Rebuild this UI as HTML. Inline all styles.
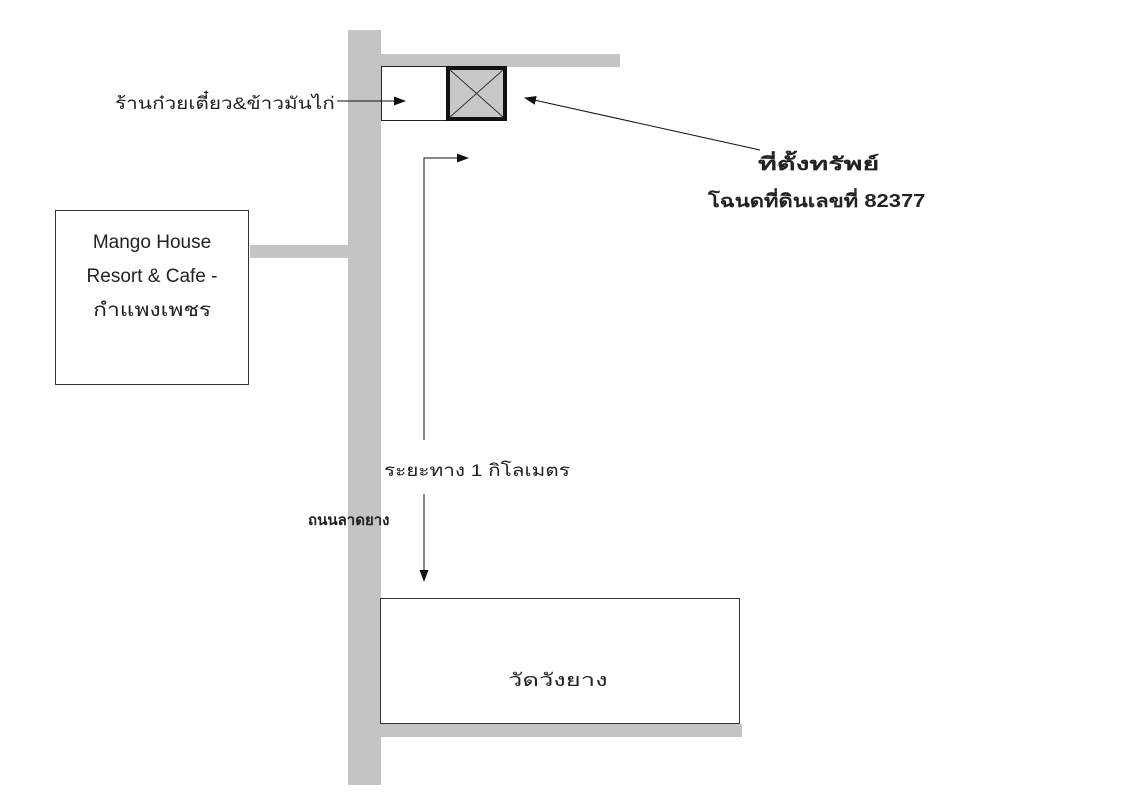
<!DOCTYPE html>
<html><head><meta charset="utf-8"><style>
body{margin:0;width:1138px;height:800px;background:#fff;position:relative;overflow:hidden;font-family:"Liberation Sans","DejaVu Sans",sans-serif;color:#222}
.t{position:absolute;white-space:nowrap;font-size:15px;transform-origin:0 50%}
</style></head><body>
<svg width="1138" height="800" style="position:absolute;left:0;top:0">
<defs><marker id="a" markerWidth="12" markerHeight="10" refX="11" refY="5" orient="auto" markerUnits="userSpaceOnUse"><path d="M0,0.5 L12,5 L0,9.5 z" fill="#111"/></marker></defs>
<g fill="#c4c4c4">
<rect x="348" y="30" width="33" height="755"/>
<rect x="381" y="54" width="239" height="13"/>
<rect x="250" y="245" width="98" height="13"/>
<rect x="381" y="724" width="361" height="13"/>
</g>
<rect x="381.5" y="66.5" width="65" height="54" fill="#fff" stroke="#222" stroke-width="1"/>
<rect x="448" y="68" width="57" height="51" fill="#c8c8c8" stroke="#111" stroke-width="4"/>
<path d="M450,70 L503,117 M503,70 L450,117" stroke="#333" stroke-width="1"/>
<rect x="55.5" y="210.5" width="193" height="174" fill="#fff" stroke="#333"/>
<rect x="380.5" y="598.5" width="359" height="125" fill="#fff" stroke="#333"/>
<line x1="337" y1="101" x2="405" y2="101" stroke="#111" marker-end="url(#a)"/>
<line x1="760" y1="150" x2="525" y2="98" stroke="#111" marker-end="url(#a)"/>
<polyline points="424,440 424,158 468,158" fill="none" stroke="#111" marker-end="url(#a)"/>
<line x1="424" y1="494" x2="424" y2="581" stroke="#111" marker-end="url(#a)"/>
</svg>
<div class="t" style="left:115px;top:90px;font-size:17px;transform:scaleX(1.22)">ร้านก๋วยเตี๋ยว&amp;ข้าวมันไก่</div>
<div class="t" style="left:758px;top:149px;font-weight:bold;font-size:18px;transform:scaleX(1.59)">ที่ตั้งทรัพย์</div>
<div class="t" style="left:708px;top:186px;font-weight:bold;font-size:18px;transform:scaleX(1.22)">โฉนดที่ดินเลขที่ 82377</div>
<div class="t" style="left:55px;top:226px;width:194px;text-align:center;line-height:34px;font-size:19px">Mango House<br>Resort &amp; Cafe -<br><span style="display:inline-block;transform:scaleX(1.2)">กำแพงเพชร</span></div>
<div class="t" style="left:384px;top:457px;font-size:17px;transform:scaleX(1.22)">ระยะทาง 1 กิโลเมตร</div>
<div class="t" style="left:308px;top:508px;font-weight:bold">ถนนลาดยาง</div>
<div class="t" style="left:508px;top:665px;font-size:18px;transform:scaleX(1.42)">วัดวังยาง</div>
</body></html>
